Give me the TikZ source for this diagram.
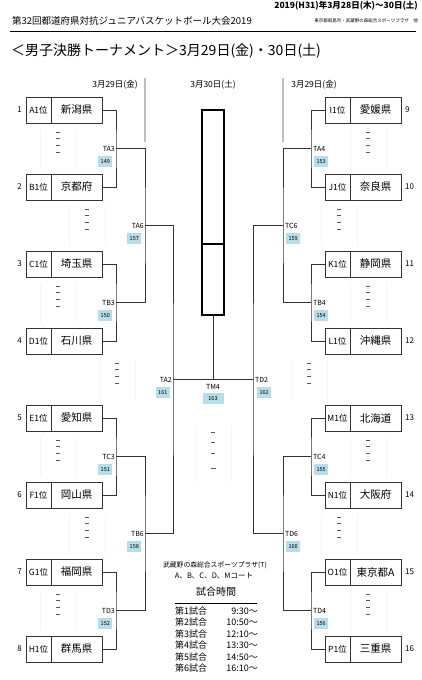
\documentclass[tikz,border=0pt]{standalone}
\usepackage{fontspec}
\setmainfont{Noto Sans CJK JP}
\usetikzlibrary{positioning}
\definecolor{gameblue}{RGB}{182,221,232}
\newcommand{\fsz}[1]{\fontsize{#1}{#1}\selectfont}
\newcommand{\dashgroup}[2]{%
  \draw[faintline] (#1-18,#2-20) -- (#1-18,#2+20) (#1+18,#2-20) -- (#1+18,#2+20);
  \foreach \k in {0,1,2,3}
    \draw[dashmark] (#1-1.6,#2-16.5+6.7*\k) -- (#1+1.6,#2-16.5+6.7*\k);}

\begin{document}
\begin{tikzpicture}[x=1pt,y=-1pt,
    rankbox/.style={draw=black!80,line width=0.8pt,minimum width=25pt,minimum height=26pt,
                    inner sep=0pt,outer sep=0pt,font=\fsz{8.5}},
    namebox/.style={draw=black!80,line width=0.8pt,minimum width=51pt,minimum height=26pt,
                    inner sep=0pt,outer sep=0pt,font=\fsz{10.5}},
    seednum/.style={inner sep=0pt,font=\fsz{8}},
    bracket/.style={draw=black!80,line width=0.9pt},
    gamelabel/.style={inner sep=0pt,font=\fsz{7}},
    gameno/.style={fill=gameblue,inner sep=0pt,minimum width=14pt,minimum height=11pt,font=\fsz{5.5}},
    finalbox/.style={draw=black,line width=1.8pt,minimum width=22pt,inner sep=0pt,outer sep=0pt},
    daylabel/.style={inner sep=0pt,font=\fsz{8.5}},
    slotname/.style={anchor=west,inner sep=0pt,font=\fsz{9}},
    slottime/.style={anchor=east,inner sep=0pt,font=\fsz{9}},
    faintline/.style={draw=black!4,line width=0.5pt},
    dashmark/.style={draw=black!65,line width=0.6pt}]
  \useasboundingbox (0,0) rectangle (422,680);

  % header
  \node[anchor=east,inner sep=0pt,font=\fsz{8.5}\bfseries] (dates) at (418,6)
    {2019(H31)年3月28日(木)～30日(土)};
  \node[anchor=west,inner sep=0pt,font=\fsz{9.5}] (event) at (12,21)
    {第32回都道府県対抗ジュニアバスケットボール大会2019};
  \node[anchor=east,inner sep=0pt,font=\fsz{4.5}] (venue) at (418,21)
    {東京都昭島市・武蔵野の森総合スポーツプラザ　他};
  \draw[line width=0.8pt] (10,31) -- (416,31);
  \node[anchor=west,inner sep=0pt,font=\fsz{14}] (title) at (11,51)
    {＜男子決勝トーナメント＞3月29日(金)・30日(土)};

  % days
  \node[daylabel] (dayl) at (115,85) {3月29日(金)};
  \node[daylabel] (dayc) at (213,85) {3月30日(土)};
  \node[daylabel] (dayr) at (314,85) {3月29日(金)};
  \draw[draw=black!25,line width=1.2pt] (145,78) -- (145,142);
  \draw[draw=black!25,line width=1.2pt] (283,78) -- (283,142);

  % final box
  \node[finalbox,minimum height=134pt] (final) at (213,177) {};
  \node[finalbox,minimum height=71pt,below=0pt of final] (runner) {};

  % left teams
  \node[rankbox] (r1) at (38.5,110) {A1位};
  \node[namebox,right=0pt of r1] (t1) {新潟県};
  \node[seednum,left=4pt of r1] (n1) {1};
  \node[rankbox] (r2) at (38.5,187) {B1位};
  \node[namebox,right=0pt of r2] (t2) {京都府};
  \node[seednum,left=4pt of r2] (n2) {2};
  \node[rankbox] (r3) at (38.5,264) {C1位};
  \node[namebox,right=0pt of r3] (t3) {埼玉県};
  \node[seednum,left=4pt of r3] (n3) {3};
  \node[rankbox] (r4) at (38.5,341) {D1位};
  \node[namebox,right=0pt of r4] (t4) {石川県};
  \node[seednum,left=4pt of r4] (n4) {4};
  \node[rankbox] (r5) at (38.5,418) {E1位};
  \node[namebox,right=0pt of r5] (t5) {愛知県};
  \node[seednum,left=4pt of r5] (n5) {5};
  \node[rankbox] (r6) at (38.5,495) {F1位};
  \node[namebox,right=0pt of r6] (t6) {岡山県};
  \node[seednum,left=4pt of r6] (n6) {6};
  \node[rankbox] (r7) at (38.5,572) {G1位};
  \node[namebox,right=0pt of r7] (t7) {福岡県};
  \node[seednum,left=4pt of r7] (n7) {7};
  \node[rankbox] (r8) at (38.5,649) {H1位};
  \node[namebox,right=0pt of r8] (t8) {群馬県};
  \node[seednum,left=4pt of r8] (n8) {8};

  % right teams
  \node[rankbox] (r9) at (337.5,110) {I1位};
  \node[namebox,right=0pt of r9] (t9) {愛媛県};
  \node[seednum,right=4pt of t9] (n9) {9};
  \node[rankbox] (r10) at (337.5,187) {J1位};
  \node[namebox,right=0pt of r10] (t10) {奈良県};
  \node[seednum,right=4pt of t10] (n10) {10};
  \node[rankbox] (r11) at (337.5,264) {K1位};
  \node[namebox,right=0pt of r11] (t11) {静岡県};
  \node[seednum,right=4pt of t11] (n11) {11};
  \node[rankbox] (r12) at (337.5,341) {L1位};
  \node[namebox,right=0pt of r12] (t12) {沖縄県};
  \node[seednum,right=4pt of t12] (n12) {12};
  \node[rankbox] (r13) at (337.5,418) {M1位};
  \node[namebox,right=0pt of r13] (t13) {北海道};
  \node[seednum,right=4pt of t13] (n13) {13};
  \node[rankbox] (r14) at (337.5,495) {N1位};
  \node[namebox,right=0pt of r14] (t14) {大阪府};
  \node[seednum,right=4pt of t14] (n14) {14};
  \node[rankbox] (r15) at (337.5,572) {O1位};
  \node[namebox,right=0pt of r15] (t15) {東京都A};
  \node[seednum,right=4pt of t15] (n15) {15};
  \node[rankbox] (r16) at (337.5,649) {P1位};
  \node[namebox,right=0pt of r16] (t16) {三重県};
  \node[seednum,right=4pt of t16] (n16) {16};

  % match points
  \coordinate (TA3) at (116,148.5);
  \coordinate (TB3) at (116,302.5);
  \coordinate (TC3) at (116,456.5);
  \coordinate (TD3) at (116,610.5);
  \coordinate (TA6) at (145,225.5);
  \coordinate (TB6) at (145,533.5);
  \coordinate (TA2) at (173,379.5);
  \coordinate (TA4) at (311,148.5);
  \coordinate (TB4) at (311,302.5);
  \coordinate (TC4) at (311,456.5);
  \coordinate (TD4) at (311,610.5);
  \coordinate (TC6) at (283,225.5);
  \coordinate (TD6) at (283,533.5);
  \coordinate (TD2) at (253,379.5);
  \coordinate (TM4) at (213,379.5);

  % bracket lines
  \draw[bracket] (t1.east) -| (TA3) |- (t2.east);
  \draw[bracket] (t3.east) -| (TB3) |- (t4.east);
  \draw[bracket] (t5.east) -| (TC3) |- (t6.east);
  \draw[bracket] (t7.east) -| (TD3) |- (t8.east);
  \draw[bracket] (TA3) -| (TA6) |- (TB3);
  \draw[bracket] (TC3) -| (TB6) |- (TD3);
  \draw[bracket] (TA6) -| (TA2) |- (TB6);
  \draw[bracket] (r9.west) -| (TA4) |- (r10.west);
  \draw[bracket] (r11.west) -| (TB4) |- (r12.west);
  \draw[bracket] (r13.west) -| (TC4) |- (r14.west);
  \draw[bracket] (r15.west) -| (TD4) |- (r16.west);
  \draw[bracket] (TA4) -| (TC6) |- (TB4);
  \draw[bracket] (TC4) -| (TD6) |- (TD4);
  \draw[bracket] (TC6) -| (TD2) |- (TD6);
  \draw[bracket] (TA2) -- (TD2);
  \draw[bracket] (runner.south) -- (TM4);

  % match labels
  \node[gamelabel,anchor=east] (TA3l) at (115,148.5) {TA3};
  \node[gameno,anchor=north east] (TA3n) at (112.5,156) {149};
  \node[gamelabel,anchor=east] (TB3l) at (115,302.5) {TB3};
  \node[gameno,anchor=north east] (TB3n) at (112.5,310) {150};
  \node[gamelabel,anchor=east] (TC3l) at (115,456.5) {TC3};
  \node[gameno,anchor=north east] (TC3n) at (112.5,464) {151};
  \node[gamelabel,anchor=east] (TD3l) at (115,610.5) {TD3};
  \node[gameno,anchor=north east] (TD3n) at (112.5,618) {152};
  \node[gamelabel,anchor=east] (TA6l) at (144,225.5) {TA6};
  \node[gameno,anchor=north east] (TA6n) at (141.5,233) {157};
  \node[gamelabel,anchor=east] (TB6l) at (144,533.5) {TB6};
  \node[gameno,anchor=north east] (TB6n) at (141.5,541) {158};
  \node[gamelabel,anchor=east] (TA2l) at (172,379.5) {TA2};
  \node[gameno,anchor=north east] (TA2n) at (170,386.5) {161};
  \node[gamelabel,anchor=west] (TA4l) at (313,148.5) {TA4};
  \node[gameno,anchor=north west] (TA4n) at (314,156) {153};
  \node[gamelabel,anchor=west] (TB4l) at (313,302.5) {TB4};
  \node[gameno,anchor=north west] (TB4n) at (314,310) {154};
  \node[gamelabel,anchor=west] (TC4l) at (313,456.5) {TC4};
  \node[gameno,anchor=north west] (TC4n) at (314,464) {155};
  \node[gamelabel,anchor=west] (TD4l) at (313,610.5) {TD4};
  \node[gameno,anchor=north west] (TD4n) at (314,618) {156};
  \node[gamelabel,anchor=west] (TC6l) at (285,225.5) {TC6};
  \node[gameno,anchor=north west] (TC6n) at (286,233) {159};
  \node[gamelabel,anchor=west] (TD6l) at (285,533.5) {TD6};
  \node[gameno,anchor=north west] (TD6n) at (286,541) {160};
  \node[gamelabel,anchor=west] (TD2l) at (255,379.5) {TD2};
  \node[gameno,anchor=north west] (TD2n) at (257,386.5) {162};
  \node[gamelabel] (TM4l) at (213,387) {TM4};
  \node[gameno,minimum width=21pt] (TM4n) at (213,398.5) {163};

  % placeholder dashes
  \dashgroup{58}{148.5}
  \dashgroup{87}{225.5}
  \dashgroup{58}{302.5}
  \dashgroup{117}{379.5}
  \dashgroup{58}{456.5}
  \dashgroup{87}{533.5}
  \dashgroup{58}{610.5}
  \dashgroup{368}{148.5}
  \dashgroup{339}{225.5}
  \dashgroup{368}{302.5}
  \dashgroup{309}{379.5}
  \dashgroup{368}{456.5}
  \dashgroup{339}{533.5}
  \dashgroup{368}{610.5}
  \draw[faintline] (195,425) -- (195,482) (231,425) -- (231,482);
  \draw[dashmark] (211,432) -- (215,432) (211,442.5) -- (215,442.5) (211,453) -- (215,453);
  \draw[dashmark,line width=1pt] (210.5,468) -- (215.5,468);

  % venue and time table
  \node[inner sep=0pt,font=\fsz{6.8}] (venue2) at (215,565) {武蔵野の森総合スポーツプラザ(T)};
  \node[inner sep=0pt,font=\fsz{7.5}] (courts) at (214,576) {A、B、C、D、Mコート};
  \node[inner sep=0pt,font=\fsz{10}] (timehead) at (216,592) {試合時間};
  \draw[line width=0.8pt] (175,603) -- (257,603);
  \node[slotname] (s1) at (175,611) {第1試合};
  \node[slottime] (h1) at (258,611) {9:30～};
  \node[slotname] (s2) at (175,622.5) {第2試合};
  \node[slottime] (h2) at (258,622.5) {10:50～};
  \node[slotname] (s3) at (175,634) {第3試合};
  \node[slottime] (h3) at (258,634) {12:10～};
  \node[slotname] (s4) at (175,645.5) {第4試合};
  \node[slottime] (h4) at (258,645.5) {13:30～};
  \node[slotname] (s5) at (175,657) {第5試合};
  \node[slottime] (h5) at (258,657) {14:50～};
  \node[slotname] (s6) at (175,668) {第6試合};
  \node[slottime] (h6) at (258,668) {16:10～};
\end{tikzpicture}
\end{document}
